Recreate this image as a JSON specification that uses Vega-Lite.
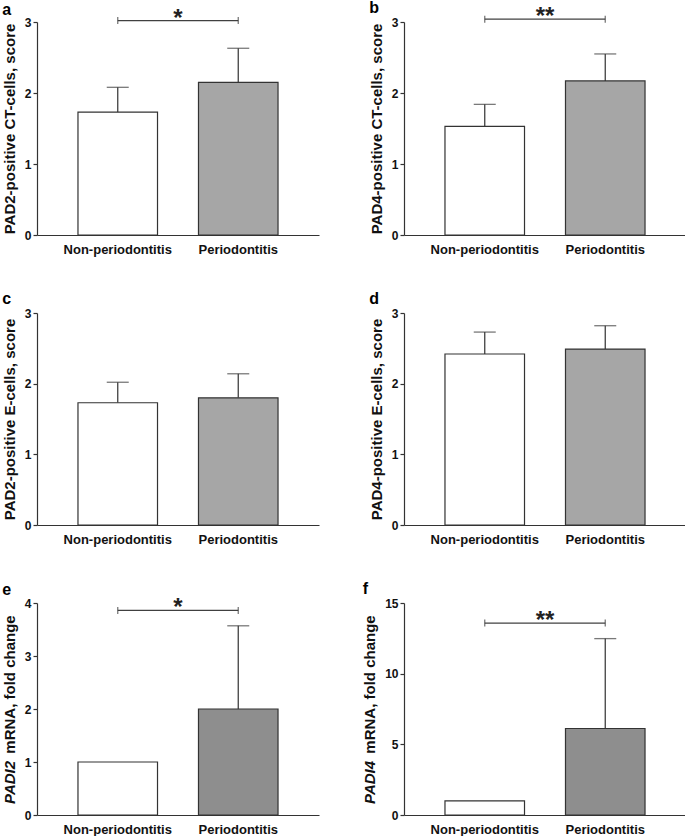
{
  "$schema": "https://vega.github.io/schema/vega-lite/v6.json",
  "padding": {"left": 2, "top": 0, "right": 0, "bottom": 0},
  "background": "#ffffff",
  "columns": 2,
  "spacing": {"row": 35, "column": 43},
  "concat": [
    {
      "width": 282, "height": 213,
      "title": {"text": "a", "offset": -11},
      "data": {"values": [
        {"group": "Non-periodontitis", "mean": 1.73, "err": 2.08},
        {"group": "Periodontitis", "mean": 2.15, "err": 2.63}
      ]},
      "encoding": {"x": {"field": "group", "type": "nominal", "sort": null, "scale": {"domain": ["Non-periodontitis", "Periodontitis"], "paddingInner": 0.34, "paddingOuter": 0.34}, "axis": {"title": null}}},
      "layer": [
        {"transform": [{"filter": "datum.err != null"}], "mark": {"type": "rule", "color": "#404040", "strokeWidth": 1.3}, "encoding": {"y": {"field": "mean", "type": "quantitative", "scale": {"domain": [0, 3], "nice": false}, "axis": {"title": "PAD2-positive CT-cells, score", "values": [0, 1, 2, 3]}}, "y2": {"field": "err"}}},
        {"transform": [{"filter": "datum.err != null"}], "mark": {"type": "tick", "color": "#404040", "thickness": 1.3, "size": 22}, "encoding": {"y": {"field": "err", "type": "quantitative"}}},
        {"mark": {"type": "bar", "stroke": "#333333", "strokeWidth": 1.2}, "encoding": {"y": {"field": "mean", "type": "quantitative"}, "fill": {"condition": {"test": "datum.group === 'Periodontitis'", "value": "#a6a6a6"}, "value": "#ffffff"}}},
        {"data": {"values": [{"group": "Non-periodontitis", "group2": "Periodontitis", "y": 3.02, "label": "*"}]},
         "layer": [
           {"mark": {"type": "rule", "color": "#404040", "strokeWidth": 1.3}, "encoding": {"x": {"field": "group", "type": "nominal"}, "x2": {"field": "group2"}, "y": {"field": "y", "type": "quantitative"}}},
           {"mark": {"type": "tick", "orient": "vertical", "color": "#404040", "thickness": 1.3, "size": 7}, "encoding": {"x": {"field": "group", "type": "nominal"}, "y": {"field": "y", "type": "quantitative"}}},
           {"mark": {"type": "tick", "orient": "vertical", "color": "#404040", "thickness": 1.3, "size": 7}, "encoding": {"x": {"field": "group2", "type": "nominal"}, "y": {"field": "y", "type": "quantitative"}}},
           {"mark": {"type": "text", "fontSize": 24, "fontWeight": "bold", "baseline": "alphabetic", "dy": 5, "color": "#222"}, "encoding": {"x": {"field": "group", "type": "nominal", "bandPosition": 1.2576}, "y": {"field": "y", "type": "quantitative"}, "text": {"field": "label"}}}
         ]}
      ]
    },
    {
      "width": 282, "height": 213,
      "title": {"text": "b", "offset": -11},
      "data": {"values": [
        {"group": "Non-periodontitis", "mean": 1.53, "err": 1.84},
        {"group": "Periodontitis", "mean": 2.17, "err": 2.55}
      ]},
      "encoding": {"x": {"field": "group", "type": "nominal", "sort": null, "scale": {"domain": ["Non-periodontitis", "Periodontitis"], "paddingInner": 0.34, "paddingOuter": 0.34}, "axis": {"title": null}}},
      "layer": [
        {"transform": [{"filter": "datum.err != null"}], "mark": {"type": "rule", "color": "#404040", "strokeWidth": 1.3}, "encoding": {"y": {"field": "mean", "type": "quantitative", "scale": {"domain": [0, 3], "nice": false}, "axis": {"title": "PAD4-positive CT-cells, score", "values": [0, 1, 2, 3]}}, "y2": {"field": "err"}}},
        {"transform": [{"filter": "datum.err != null"}], "mark": {"type": "tick", "color": "#404040", "thickness": 1.3, "size": 22}, "encoding": {"y": {"field": "err", "type": "quantitative"}}},
        {"mark": {"type": "bar", "stroke": "#333333", "strokeWidth": 1.2}, "encoding": {"y": {"field": "mean", "type": "quantitative"}, "fill": {"condition": {"test": "datum.group === 'Periodontitis'", "value": "#a6a6a6"}, "value": "#ffffff"}}},
        {"data": {"values": [{"group": "Non-periodontitis", "group2": "Periodontitis", "y": 3.04, "label": "**"}]},
         "layer": [
           {"mark": {"type": "rule", "color": "#404040", "strokeWidth": 1.3}, "encoding": {"x": {"field": "group", "type": "nominal"}, "x2": {"field": "group2"}, "y": {"field": "y", "type": "quantitative"}}},
           {"mark": {"type": "tick", "orient": "vertical", "color": "#404040", "thickness": 1.3, "size": 7}, "encoding": {"x": {"field": "group", "type": "nominal"}, "y": {"field": "y", "type": "quantitative"}}},
           {"mark": {"type": "tick", "orient": "vertical", "color": "#404040", "thickness": 1.3, "size": 7}, "encoding": {"x": {"field": "group2", "type": "nominal"}, "y": {"field": "y", "type": "quantitative"}}},
           {"mark": {"type": "text", "fontSize": 24, "fontWeight": "bold", "baseline": "alphabetic", "dy": 5, "color": "#222"}, "encoding": {"x": {"field": "group", "type": "nominal", "bandPosition": 1.2576}, "y": {"field": "y", "type": "quantitative"}, "text": {"field": "label"}}}
         ]}
      ]
    },
    {
      "width": 282, "height": 212,
      "title": {"text": "c", "offset": 0},
      "data": {"values": [
        {"group": "Non-periodontitis", "mean": 1.73, "err": 2.02},
        {"group": "Periodontitis", "mean": 1.80, "err": 2.14}
      ]},
      "encoding": {"x": {"field": "group", "type": "nominal", "sort": null, "scale": {"domain": ["Non-periodontitis", "Periodontitis"], "paddingInner": 0.34, "paddingOuter": 0.34}, "axis": {"title": null}}},
      "layer": [
        {"transform": [{"filter": "datum.err != null"}], "mark": {"type": "rule", "color": "#404040", "strokeWidth": 1.3}, "encoding": {"y": {"field": "mean", "type": "quantitative", "scale": {"domain": [0, 3], "nice": false}, "axis": {"title": "PAD2-positive E-cells, score", "values": [0, 1, 2, 3]}}, "y2": {"field": "err"}}},
        {"transform": [{"filter": "datum.err != null"}], "mark": {"type": "tick", "color": "#404040", "thickness": 1.3, "size": 22}, "encoding": {"y": {"field": "err", "type": "quantitative"}}},
        {"mark": {"type": "bar", "stroke": "#333333", "strokeWidth": 1.2}, "encoding": {"y": {"field": "mean", "type": "quantitative"}, "fill": {"condition": {"test": "datum.group === 'Periodontitis'", "value": "#a6a6a6"}, "value": "#ffffff"}}}
      ]
    },
    {
      "width": 282, "height": 212,
      "title": {"text": "d", "offset": 0},
      "data": {"values": [
        {"group": "Non-periodontitis", "mean": 2.42, "err": 2.73},
        {"group": "Periodontitis", "mean": 2.49, "err": 2.82}
      ]},
      "encoding": {"x": {"field": "group", "type": "nominal", "sort": null, "scale": {"domain": ["Non-periodontitis", "Periodontitis"], "paddingInner": 0.34, "paddingOuter": 0.34}, "axis": {"title": null}}},
      "layer": [
        {"transform": [{"filter": "datum.err != null"}], "mark": {"type": "rule", "color": "#404040", "strokeWidth": 1.3}, "encoding": {"y": {"field": "mean", "type": "quantitative", "scale": {"domain": [0, 3], "nice": false}, "axis": {"title": "PAD4-positive E-cells, score", "values": [0, 1, 2, 3]}}, "y2": {"field": "err"}}},
        {"transform": [{"filter": "datum.err != null"}], "mark": {"type": "tick", "color": "#404040", "thickness": 1.3, "size": 22}, "encoding": {"y": {"field": "err", "type": "quantitative"}}},
        {"mark": {"type": "bar", "stroke": "#333333", "strokeWidth": 1.2}, "encoding": {"y": {"field": "mean", "type": "quantitative"}, "fill": {"condition": {"test": "datum.group === 'Periodontitis'", "value": "#a6a6a6"}, "value": "#ffffff"}}}
      ]
    },
    {
      "width": 282, "height": 212,
      "title": {"text": "e", "offset": -2},
      "data": {"values": [
        {"group": "Non-periodontitis", "mean": 1.0, "err": null},
        {"group": "Periodontitis", "mean": 2.0, "err": 3.57}
      ]},
      "encoding": {"x": {"field": "group", "type": "nominal", "sort": null, "scale": {"domain": ["Non-periodontitis", "Periodontitis"], "paddingInner": 0.34, "paddingOuter": 0.34}, "axis": {"title": null}}},
      "resolve": {"axis": {"y": "independent"}},
      "layer": [
        {"transform": [{"filter": "datum.err != null"}], "mark": {"type": "rule", "color": "#404040", "strokeWidth": 1.3}, "encoding": {"y": {"field": "mean", "type": "quantitative", "scale": {"domain": [0, 4], "nice": false}, "axis": {"orient": "left", "title": "\u200b\u00a0\u00a0\u00a0\u00a0\u00a0\u00a0\u00a0\u00a0\u00a0\u00a0\u00a0\u00a0mRNA, fold change", "values": [0, 1, 2, 3, 4]}}, "y2": {"field": "err"}}},
        {"transform": [{"filter": "datum.err != null"}], "mark": {"type": "tick", "color": "#404040", "thickness": 1.3, "size": 22}, "encoding": {"y": {"field": "err", "type": "quantitative", "axis": null}}},
        {"mark": {"type": "bar", "stroke": "#333333", "strokeWidth": 1.2}, "encoding": {"y": {"field": "mean", "type": "quantitative", "axis": {"orient": "left", "title": "PADI2\u00a0\u00a0\u00a0\u00a0\u00a0\u00a0\u00a0\u00a0\u00a0\u00a0\u00a0\u00a0\u00a0\u00a0\u00a0\u00a0\u00a0\u00a0\u00a0\u00a0\u00a0\u00a0\u00a0\u00a0\u00a0\u00a0\u00a0\u00a0\u00a0\u00a0\u00a0\u00a0\u00a0\u00a0\u00a0\u200b", "titleFontStyle": "italic", "values": [0, 1, 2, 3, 4], "labelOpacity": 0, "tickOpacity": 0, "domainOpacity": 0}}, "fill": {"condition": {"test": "datum.group === 'Periodontitis'", "value": "#8e8e8e"}, "value": "#ffffff"}}},
        {"data": {"values": [{"group": "Non-periodontitis", "group2": "Periodontitis", "y": 3.86, "label": "*"}]},
         "layer": [
           {"mark": {"type": "rule", "color": "#404040", "strokeWidth": 1.3}, "encoding": {"x": {"field": "group", "type": "nominal"}, "x2": {"field": "group2"}, "y": {"field": "y", "type": "quantitative", "axis": null}}},
           {"mark": {"type": "tick", "orient": "vertical", "color": "#404040", "thickness": 1.3, "size": 7}, "encoding": {"x": {"field": "group", "type": "nominal"}, "y": {"field": "y", "type": "quantitative", "axis": null}}},
           {"mark": {"type": "tick", "orient": "vertical", "color": "#404040", "thickness": 1.3, "size": 7}, "encoding": {"x": {"field": "group2", "type": "nominal"}, "y": {"field": "y", "type": "quantitative", "axis": null}}},
           {"mark": {"type": "text", "fontSize": 24, "fontWeight": "bold", "baseline": "alphabetic", "dy": 5, "color": "#222"}, "encoding": {"x": {"field": "group", "type": "nominal", "bandPosition": 1.2576}, "y": {"field": "y", "type": "quantitative", "axis": null}, "text": {"field": "label"}}}
         ]}
      ]
    },
    {
      "width": 282, "height": 212,
      "title": {"text": "f", "offset": 0},
      "data": {"values": [
        {"group": "Non-periodontitis", "mean": 1.0, "err": null},
        {"group": "Periodontitis", "mean": 6.12, "err": 12.48}
      ]},
      "encoding": {"x": {"field": "group", "type": "nominal", "sort": null, "scale": {"domain": ["Non-periodontitis", "Periodontitis"], "paddingInner": 0.34, "paddingOuter": 0.34}, "axis": {"title": null}}},
      "resolve": {"axis": {"y": "independent"}},
      "layer": [
        {"transform": [{"filter": "datum.err != null"}], "mark": {"type": "rule", "color": "#404040", "strokeWidth": 1.3}, "encoding": {"y": {"field": "mean", "type": "quantitative", "scale": {"domain": [0, 15], "nice": false}, "axis": {"orient": "left", "title": "\u200b\u00a0\u00a0\u00a0\u00a0\u00a0\u00a0\u00a0\u00a0\u00a0\u00a0\u00a0\u00a0mRNA, fold change", "values": [0, 5, 10, 15]}}, "y2": {"field": "err"}}},
        {"transform": [{"filter": "datum.err != null"}], "mark": {"type": "tick", "color": "#404040", "thickness": 1.3, "size": 22}, "encoding": {"y": {"field": "err", "type": "quantitative", "axis": null}}},
        {"mark": {"type": "bar", "stroke": "#333333", "strokeWidth": 1.2}, "encoding": {"y": {"field": "mean", "type": "quantitative", "axis": {"orient": "left", "title": "PADI4\u00a0\u00a0\u00a0\u00a0\u00a0\u00a0\u00a0\u00a0\u00a0\u00a0\u00a0\u00a0\u00a0\u00a0\u00a0\u00a0\u00a0\u00a0\u00a0\u00a0\u00a0\u00a0\u00a0\u00a0\u00a0\u00a0\u00a0\u00a0\u00a0\u00a0\u00a0\u00a0\u00a0\u00a0\u00a0\u200b", "titleFontStyle": "italic", "values": [0, 5, 10, 15], "labelOpacity": 0, "tickOpacity": 0, "domainOpacity": 0}}, "fill": {"condition": {"test": "datum.group === 'Periodontitis'", "value": "#8e8e8e"}, "value": "#ffffff"}}},
        {"data": {"values": [{"group": "Non-periodontitis", "group2": "Periodontitis", "y": 13.58, "label": "**"}]},
         "layer": [
           {"mark": {"type": "rule", "color": "#404040", "strokeWidth": 1.3}, "encoding": {"x": {"field": "group", "type": "nominal"}, "x2": {"field": "group2"}, "y": {"field": "y", "type": "quantitative", "axis": null}}},
           {"mark": {"type": "tick", "orient": "vertical", "color": "#404040", "thickness": 1.3, "size": 7}, "encoding": {"x": {"field": "group", "type": "nominal"}, "y": {"field": "y", "type": "quantitative", "axis": null}}},
           {"mark": {"type": "tick", "orient": "vertical", "color": "#404040", "thickness": 1.3, "size": 7}, "encoding": {"x": {"field": "group2", "type": "nominal"}, "y": {"field": "y", "type": "quantitative", "axis": null}}},
           {"mark": {"type": "text", "fontSize": 24, "fontWeight": "bold", "baseline": "alphabetic", "dy": 5, "color": "#222"}, "encoding": {"x": {"field": "group", "type": "nominal", "bandPosition": 1.2576}, "y": {"field": "y", "type": "quantitative", "axis": null}, "text": {"field": "label"}}}
         ]}
      ]
    }
  ],
  "config": {
    "font": "Liberation Sans",
    "view": {"stroke": null},
    "title": {"fontSize": 16, "fontWeight": "bold", "anchor": "start", "frame": "bounds", "color": "#000000", "font": "Liberation Sans"},
    "axis": {"grid": false, "labelFont": "Liberation Sans", "labelFontWeight": "bold", "labelFontSize": 13, "labelColor": "#111111", "titleFont": "Liberation Sans", "titleFontWeight": "bold", "titleFontSize": 15, "titleColor": "#111111", "domainColor": "#333333", "domainWidth": 1.2, "tickColor": "#333333", "tickWidth": 1.2},
    "axisX": {"ticks": false, "labelPadding": 8, "labelAngle": 0},
    "axisY": {"tickSize": 4, "labelPadding": 2, "titlePadding": 7, "format": "d", "labelFontSize": 12}
  }
}
